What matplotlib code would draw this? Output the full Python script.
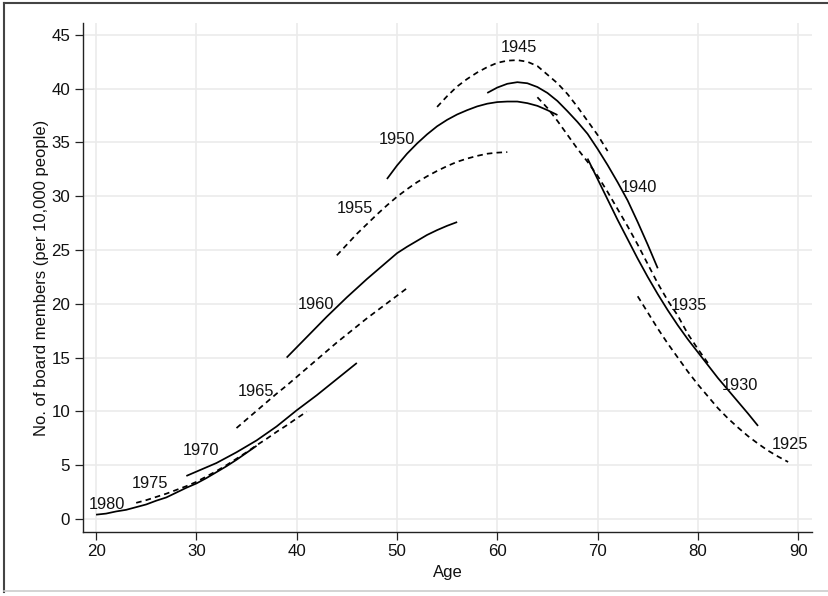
import matplotlib
matplotlib.use('Agg')
import matplotlib.pyplot as plt
from matplotlib.lines import Line2D

plt.rcParams['font.family'] = ['Liberation Sans', 'DejaVu Sans']

# board members per 10,000 people, by birth cohort and age
age1980 = list(range(20, 37))
val1980 = [0.4, 0.5, 0.7, 0.85, 1.1, 1.35, 1.7, 2.0, 2.45, 2.9, 3.3, 3.8, 4.35, 4.9, 5.5, 6.15, 6.8]
age1975 = list(range(24, 42))
val1975 = [1.5, 1.75, 2.05, 2.35, 2.7, 3.05, 3.45, 3.95, 4.45, 5.0, 5.6, 6.2, 6.85, 7.45, 8.1, 8.7, 9.35, 9.97]
age1970 = list(range(29, 47))
val1970 = [4.0, 4.4, 4.8, 5.2, 5.7, 6.2, 6.75, 7.3, 7.95, 8.6, 9.35, 10.1, 10.8, 11.5, 12.25, 13.0, 13.75, 14.5]
age1965 = list(range(34, 52))
val1965 = [8.45, 9.25, 10.05, 10.85, 11.65, 12.4, 13.2, 14.0, 14.8, 15.6, 16.4, 17.15, 17.9, 18.65, 19.35, 20.05, 20.75, 21.45]
age1960 = list(range(39, 57))
val1960 = [15.0, 15.95, 16.9, 17.85, 18.8, 19.7, 20.6, 21.45, 22.3, 23.1, 23.9, 24.7, 25.3, 25.85, 26.4, 26.85, 27.25, 27.6]
age1955 = list(range(44, 62))
val1955 = [24.5, 25.5, 26.5, 27.4, 28.3, 29.15, 29.95, 30.65, 31.3, 31.85, 32.35, 32.8, 33.2, 33.5, 33.75, 33.95, 34.05, 34.1]
age1950 = list(range(49, 67))
val1950 = [31.6, 32.85, 33.95, 34.9, 35.75, 36.5, 37.1, 37.6, 38.0, 38.35, 38.6, 38.75, 38.8, 38.8, 38.65, 38.4, 38.0, 37.55]
age1945 = list(range(54, 72))
val1945 = [38.3, 39.3, 40.2, 40.9, 41.5, 42.0, 42.4, 42.6, 42.65, 42.5, 42.1, 41.3, 40.5, 39.5, 38.3, 37.0, 35.7, 34.2]
age1940 = list(range(59, 77))
val1940 = [39.6, 40.1, 40.45, 40.6, 40.5, 40.15, 39.6, 38.85, 37.9, 36.9, 35.8, 34.4, 32.9, 31.3, 29.6, 27.6, 25.5, 23.3]
age1935 = list(range(64, 82))
val1935 = [39.2, 38.2, 37.0, 35.7, 34.4, 33.2, 31.9, 30.4, 28.8, 27.2, 25.5, 23.7, 21.9, 20.3, 18.9, 17.2, 15.8, 14.5]
age1930 = list(range(69, 87))
val1930 = [33.5, 31.6, 29.7, 27.8, 26.0, 24.2, 22.5, 20.9, 19.4, 18.0, 16.7, 15.5, 14.3, 13.1, 12.0, 10.9, 9.8, 8.65]
age1925 = list(range(74, 90))
val1925 = [20.7, 19.2, 17.7, 16.3, 15.0, 13.7, 12.5, 11.4, 10.3, 9.35, 8.5, 7.7, 7.0, 6.35, 5.8, 5.3]

cohorts = [1980, 1975, 1970, 1965, 1960, 1955, 1950, 1945, 1940, 1935, 1930, 1925]
ages = [age1980, age1975, age1970, age1965, age1960, age1955,
        age1950, age1945, age1940, age1935, age1930, age1925]
vals = [val1980, val1975, val1970, val1965, val1960, val1955,
        val1950, val1945, val1940, val1935, val1930, val1925]

# where each cohort's label sits (age, value)
labelAge = [21.07, 25.4, 30.42, 35.93, 41.91, 45.85, 49.98, 62.15, 74.12, 79.14, 84.15, 89.16]
labelVal = [1.3, 3.32, 6.35, 11.83, 19.89, 28.87, 35.28, 43.83, 30.83, 19.8, 12.36, 6.88]

fig = plt.figure(figsize=(8.29, 5.96), dpi=100)
ax = fig.add_axes([0.0998, 0.1074, 0.8797, 0.854])

for i in range(len(cohorts)):
    # even index -> solid, odd -> dashed (1980 solid, 1975 dashed, ...)
    if i % 2 == 0:
        ax.plot(ages[i], vals[i], color='black', lw=1.25, solid_capstyle='butt')
    else:
        ax.plot(ages[i], vals[i], color='black', lw=1.25, dashes=(3.2, 2.4))
    ax.text(labelAge[i], labelVal[i], str(cohorts[i]), ha='center', va='center',
            fontsize=11.8, color='#111111')

ax.set_xlim(18.67, 91.38)
ax.set_ylim(-1.21, 46.1)
ax.set_xticks(range(20, 91, 10))
ax.set_yticks(range(0, 46, 5))
ax.grid(True, color='#ebebeb', lw=1.2)
ax.set_axisbelow(True)
for side in ['top', 'right']:
    ax.spines[side].set_visible(False)
for side in ['left', 'bottom']:
    ax.spines[side].set_color('#222222')
    ax.spines[side].set_linewidth(1.0)
ax.tick_params(direction='out', length=6, width=0.9, color='#222222',
               labelsize=12.2, labelcolor='#111111', pad=3)

ax.set_xlabel('Age', fontsize=12, color='#111111')
ax.set_ylabel('No. of board members (per 10,000 people)', fontsize=12, color='#111111')
ax.xaxis.set_label_coords(0.5, -0.08)
ax.xaxis.label.set_va('center')
ax.yaxis.set_label_coords(-0.0562, 0.5)
ax.yaxis.label.set_va('center')

# screenshot frame
fig.add_artist(Line2D([0.005, 0.005], [0.007, 0.9955], transform=fig.transFigure, color='#444444', lw=1.5))
fig.add_artist(Line2D([0.005, 1.0], [0.9955, 0.9955], transform=fig.transFigure, color='#444444', lw=1.5))
fig.add_artist(Line2D([0.005, 1.0], [0.0085, 0.0085], transform=fig.transFigure, color='#cccccc', lw=1.2))

fig.savefig('out.png', dpi=100)
